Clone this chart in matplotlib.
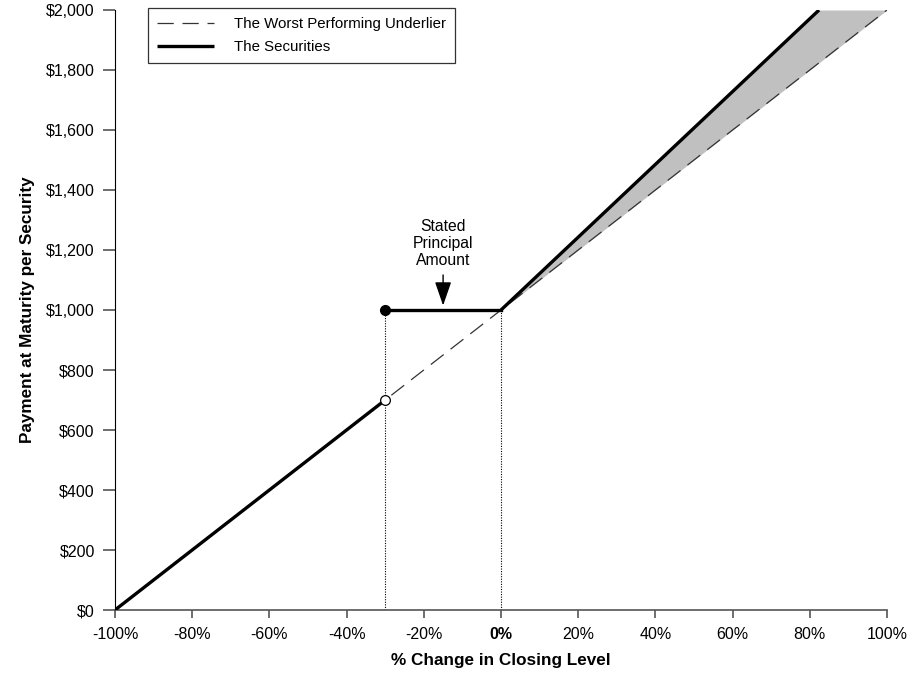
import numpy as np
import matplotlib
matplotlib.use("Agg")
import matplotlib.pyplot as plt

plt.rcParams['font.family'] = ['Liberation Sans', 'DejaVu Sans']

# Data
underlier_x = [-100, 100]
underlier_y = [0, 2000]
sec_down_x = [-100, -30]
sec_down_y = [0, 700]
sec_flat_x = [-30, 0]
sec_flat_y = [1000, 1000]
sec_up_x = [0, 82.4]
sec_up_y = [1000, 2000]
barrier_x = -30
barrier_low = 700
principal = 1000
x_ticks = [-100, -80, -60, -40, -20, 0, 20, 40, 60, 80, 100]
x_labels = ['-100%', '-80%', '-60%', '-40%', '-20%', '0%', '20%', '40%', '60%', '80%', '100%']
y_ticks = [0, 200, 400, 600, 800, 1000, 1200, 1400, 1600, 1800, 2000]
y_labels = ['$0', '$200', '$400', '$600', '$800', '$1,000', '$1,200', '$1,400', '$1,600', '$1,800', '$2,000']

W, H = 917, 682
fig = plt.figure(figsize=(W / 100, H / 100), dpi=100)
ax = fig.add_axes([115 / W, 1 - 610 / H, (887 - 115) / W, 600 / H])

# shaded region
fx = np.array([0, sec_up_x[1], 100])
upper = np.minimum(np.interp(fx, sec_up_x, sec_up_y, right=2000), 2000)
lower = np.interp(fx, underlier_x, underlier_y)
ax.fill_between(fx, lower, upper, color='#c0c0c0', lw=0, zorder=1)

# dotted verticals
ax.plot([barrier_x, barrier_x], [0, principal], color='black', lw=0.8, ls=(0, (1, 1.3)), zorder=2)
ax.plot([0, 0], [0, principal], color='black', lw=0.8, ls=(0, (1, 1.3)), zorder=2)

# underlier
ax.plot(underlier_x, underlier_y, color='#333333', lw=0.9, ls=(0, (13, 7)), zorder=3,
        label='The Worst Performing Underlier')

# securities
ax.plot(sec_down_x, sec_down_y, color='black', lw=2.4, zorder=4, label='The Securities',
        solid_capstyle='butt')
ax.plot(sec_flat_x, sec_flat_y, color='black', lw=2.4, zorder=4)
ax.plot(sec_up_x, sec_up_y, color='black', lw=2.4, zorder=4, solid_capstyle='butt')

ax.plot([barrier_x], [principal], 'o', color='black', ms=7, zorder=5)
ax.plot([barrier_x], [barrier_low], 'o', mfc='white', mec='black', mew=0.9, ms=7, zorder=5)

# annotation
ax.annotate('Stated\nPrincipal\nAmount', xy=(-15, 1015), xytext=(-15, 1140),
            ha='center', va='bottom', fontsize=11.3, linespacing=1.15,
            arrowprops=dict(arrowstyle='-|>,head_length=1.3,head_width=0.45', color='black', lw=1,
                            shrinkA=3, shrinkB=0))

ax.set_xlim(-100, 100)
ax.set_ylim(0, 2000)
ax.set_xticks(x_ticks)
ax.set_xticklabels(x_labels, fontsize=11.5)
ax.set_yticks(y_ticks)
ax.set_yticklabels(y_labels, fontsize=11.5)
for lbl in ax.get_xticklabels():
    if lbl.get_text() == '0%':
        lbl.set_fontweight('bold')

ax.spines['top'].set_visible(False)
ax.spines['right'].set_visible(False)
ax.spines['left'].set_color('black')
ax.spines['bottom'].set_color('#555555')
ax.spines['bottom'].set_linewidth(1.2)
ax.tick_params(axis='y', length=8.5, width=1.2, color='#555555', pad=6)
ax.tick_params(axis='x', length=6, width=1.2, color='#555555', pad=6)

ax.set_xlabel('% Change in Closing Level', fontsize=12.3, fontweight='bold', labelpad=8)
ax.set_ylabel('Payment at Maturity per Security', fontsize=12.3, fontweight='bold', labelpad=8)

leg = ax.legend(loc='upper left', bbox_to_anchor=(33 / 772, 1 + 2 / 600), borderaxespad=0,
                fontsize=10.8, frameon=True, fancybox=False, edgecolor='black',
                handlelength=3.8, borderpad=0.6, labelspacing=0.6, handletextpad=1.3)
leg.get_frame().set_linewidth(0.9)
leg.set_zorder(10)

fig.savefig('out.png', dpi=100)
